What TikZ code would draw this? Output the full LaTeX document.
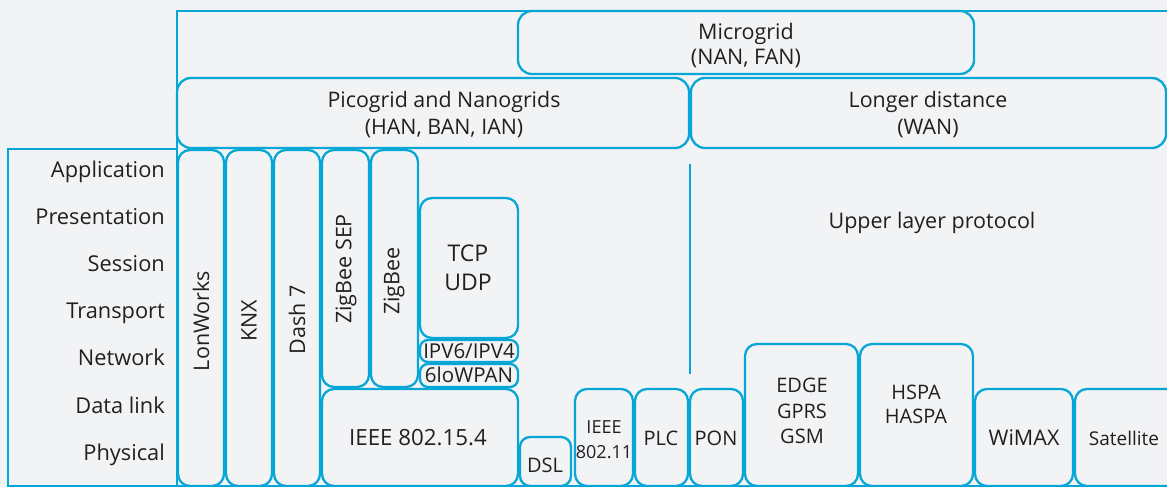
\documentclass[tikz,border=0pt]{standalone}
\usepackage{fontspec}
\setmainfont{Open Sans}
\usepackage{tikz}
\definecolor{gridblue}{RGB}{6,167,214}
\definecolor{paper}{RGB}{242,243,245}
\definecolor{ink}{RGB}{35,31,32}
\tikzset{
	wire/.style={draw=gridblue, line width=2.3pt},
	blk/.style={wire, rounded corners=12pt},
	lbl/.style={text=ink, align=center, inner sep=0pt, font=\fontsize{21.5}{25}\selectfont},
	small/.style={font=\fontsize{20}{25}\selectfont},
	layer/.style={lbl, anchor=base east, font=\fontsize{21.8}{25}\selectfont}
}

\begin{document}
\begin{tikzpicture}[x=1pt, y=-1pt]
	\useasboundingbox (0,0) rectangle (1167,487);
	\clip (0,0) rectangle (1167,487);
	\fill [paper] (0,0) rectangle (1167,487);

	% frame and OSI layers
	\draw [wire] (8,149) rectangle (177,486);
	\draw [wire] (177,486) -- (177,11) -- (1170,11);
	\draw [wire] (8,486) -- (1170,486);
	\draw [wire] (690,164) -- (690,374);

	\node [layer] (app) at (165,177) {Application};
	\node [layer] (pres) at (165,224.2) {Presentation};
	\node [layer] (sess) at (165,271.4) {Session};
	\node [layer] (trans) at (165,318.6) {Transport};
	\node [layer] (net) at (165,365.8) {Network};
	\node [layer] (link) at (165,413) {Data link};
	\node [layer] (phys) at (165,460.2) {Physical};

	% grid scales
	\draw [blk, rounded corners=14pt] (518,11) rectangle (974,74);
	\draw [blk, rounded corners=14pt] (177,78) rectangle (689,148);
	\draw [blk, rounded corners=14pt] (691,78) rectangle (1166,148);
	\node [lbl] (micro) at (746,46) {Microgrid\\(NAN, FAN)};
	\node [lbl, font=\fontsize{21.4}{27}\selectfont] (pico) at (444,115) {Picogrid and Nanogrids\\(HAN, BAN, IAN)};
	\node [lbl, font=\fontsize{21.4}{27}\selectfont] (wan) at (928,115) {Longer distance\\(WAN)};

	% home area stacks
	\draw [blk] (178,150) rectangle (224,486);
	\draw [blk] (226,150) rectangle (272,486);
	\draw [blk] (274,150) rectangle (320,486);
	\draw [blk] (322,150) rectangle (369,387);
	\draw [blk] (371,150) rectangle (418,387);
	\draw [blk] (420,198) rectangle (518,338);
	\draw [blk, rounded corners=8pt] (420,340) rectangle (518,362);
	\draw [blk, rounded corners=8pt] (420,364) rectangle (518,387);
	\draw [blk] (322,389) rectangle (518,486);
	\node [lbl, rotate=90] (lonworks) at (201,321) {LonWorks};
	\node [lbl, rotate=90] (knx) at (249,321) {KNX};
	\node [lbl, rotate=90] (dash) at (297,320) {Dash 7};
	\node [lbl, rotate=90] (zsep) at (346,269) {ZigBee SEP};
	\node [lbl, rotate=90] (zigbee) at (394,281) {ZigBee};
	\node [lbl, font=\fontsize{23}{29}\selectfont] (tcp) at (468,268) {TCP\\UDP};
	\node [lbl, font=\fontsize{20.5}{20}\selectfont] (ip) at (469,351) {IPV6/IPV4};
	\node [lbl, font=\fontsize{20.5}{20}\selectfont] (lowpan) at (469,375) {6loWPAN};
	\node [lbl, font=\fontsize{22.3}{25}\selectfont] (ieee154) at (418,438) {IEEE 802.15.4};

	% access and wide area links
	\draw [blk, rounded corners=10pt] (520,437) rectangle (571,486);
	\draw [blk] (575,389) rectangle (633,486);
	\draw [blk] (635,389) rectangle (688,486);
	\draw [blk] (690,389) rectangle (743,486);
	\draw [blk] (745,344) rectangle (858,486);
	\draw [blk] (860,344) rectangle (973,486);
	\draw [blk] (975,389) rectangle (1073,486);
	\draw [blk] (1075,389) rectangle (1190,486);
	\node [lbl, small] (dsl) at (545,465) {DSL};
	\node [lbl, font=\fontsize{18}{25}\selectfont] (wifi) at (604,440) {IEEE\\802.11};
	\node [lbl, small] (plc) at (661,438) {PLC};
	\node [lbl, small] (pon) at (716,438) {PON};
	\node [lbl, font=\fontsize{20}{25.5}\selectfont] (cell) at (802,411) {EDGE\\GPRS\\GSM};
	\node [lbl, font=\fontsize{20}{24}\selectfont] (hspa) at (916,404) {HSPA\\HASPA};
	\node [lbl] (wimax) at (1024,438) {WiMAX};
	\node [lbl, font=\fontsize{19}{25}\selectfont] (sat) at (1124,438) {Satellite};
	\node [lbl] (upper) at (932,223) {Upper layer protocol};
\end{tikzpicture}
\end{document}
